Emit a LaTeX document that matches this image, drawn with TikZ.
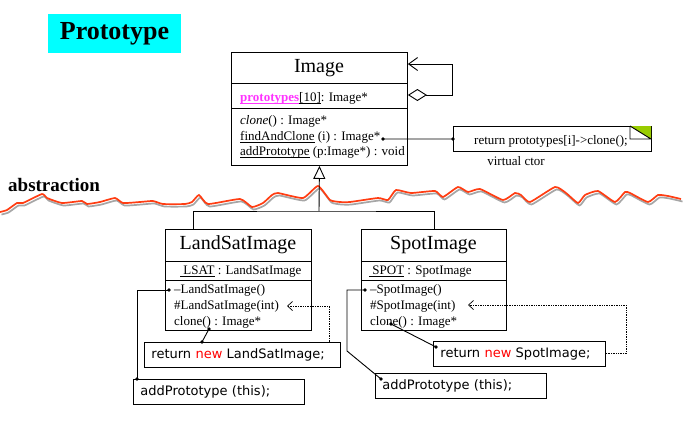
\documentclass[tikz,border=0pt]{standalone}
\usepackage{fontspec}
\setmainfont{Liberation Serif}
\newfontfamily\codefont{DejaVu Sans}
\usetikzlibrary{arrows.meta}
\newcommand\myul[1]{\setbox0\hbox{#1}\rlap{\vrule height -1.6pt depth 2.5pt width \wd0}\box0\relax}
\definecolor{titlecyan}{HTML}{00FFFF}
\definecolor{attrmag}{HTML}{FF33FF}
\definecolor{wavered}{HTML}{FF3D12}
\definecolor{notegreen}{HTML}{99CC00}
\tikzset{
  cls/.style={draw, line width=0.9pt, anchor=north west, inner sep=0pt},
  txt/.style={anchor=base west, inner sep=0pt, font=\fontsize{13}{15}\selectfont},
  hdr/.style={inner sep=0pt, font=\fontsize{20}{24}\selectfont},
  codebox/.style={draw, line width=0.9pt, anchor=north west, align=left, inner xsep=7pt, inner ysep=0pt, minimum height=24.5pt, font=\codefont\fontsize{13}{15}\selectfont},
  dotm/.style={circle, fill, inner sep=0pt, minimum size=3.8pt},
  conn/.style={line width=0.9pt},
  dep/.style={densely dotted, line width=0.7pt, -{Straight Barb[length=5pt,width=9pt]}},
}
\begin{document}
\begin{tikzpicture}[x=1pt,y=-1pt]
\fill[white] (0,0) rectangle (698,437);
\useasboundingbox (0,0) rectangle (698,437);

% title
\node[fill=titlecyan, minimum width=133pt, minimum height=39pt, inner sep=0pt,
      font=\bfseries\fontsize{26}{30}\selectfont] (title) at (114.5,33.5) {Prototype};

% abstraction wave
\def\wavepts{(0,212) (7,210) (17,203) (23,203) (42,194) (47,198) (62,203) (82,201) (87,204) (100,202) (115,198) (123,203) (140,202) (153,201) (163,204) (185,204) (192,202) (199,195) (208,204) (240,199) (252,207) (263,203) (272,195) (278,193) (303,198) (318,186) (330,200) (340,202) (350,202) (378,198) (388,200) (396,190) (411,193) (435,191) (443,197) (458,187) (468,192) (480,189) (503,200) (515,193) (521,195) (530,202) (555,187) (566,193) (578,203) (585,195) (598,191) (615,202) (625,192) (630,193) (648,202) (658,195) (668,196) (681,199)}
\draw[gray!70, line width=1.7pt, shift={(1.5,2.5)}] plot[smooth, tension=0.3] coordinates {\wavepts};
\draw[wavered, line width=1.7pt] plot[smooth, tension=0.3] coordinates {\wavepts};
\node[anchor=west, inner sep=0pt, font=\bfseries\fontsize{19}{22}\selectfont] (abs) at (8,185) {abstraction};

% Image class
\node[cls, minimum width=176pt, minimum height=113pt] (img) at (231,52) {};
\draw[line width=0.9pt] (231,83) -- (407,83) (231,108) -- (407,108);
\node[hdr] (imgname) at (319,68) {Image};
\node[txt] (imgattr) at (240,101) {\textbf{\color{attrmag}\myul{prototypes}}\myul{[10]}: Image*};
\node[txt] (imgm1) at (240,124) {\textit{clone}() : Image*};
\node[txt] (imgm2) at (240,140) {\myul{findAndClone} (i) : Image*};
\node[txt] (imgm3) at (240,155) {\myul{addPrototype} (p:Image*) : void};

% self association
\draw[conn, {Diamond[open,length=19pt,width=12pt]}-{Straight Barb[length=9pt,width=13pt]}]
  (img.east |- 0,95) -- (452,95) -- (452,64) -- (img.east |- 0,64);

% note
\node[draw, line width=0.9pt, anchor=north west, minimum width=198pt, minimum height=25pt, inner sep=0pt] (note) at (453,126) {};
\fill[notegreen] (630,126) -- (651,126) -- (651,139) -- cycle;
\draw[line width=0.9pt] (630,126) -- (651,139) (630,126) -- (630,139) -- (651,139);
\node[inner sep=0pt, font=\fontsize{13}{15}\selectfont] (notetxt) at (551,141) {return prototypes[i]->clone();};
\node[inner sep=0pt, font=\fontsize{13}{15}\selectfont] (vctor) at (516,161) {virtual ctor};
\coordinate (imgdot) at (383,139);
\draw[conn] (imgdot) -- (note.west);
\node[dotm] at (imgdot) {};
\node[dotm] at (note.west) {};

% LandSatImage class
\node[cls, minimum width=146pt, minimum height=101pt] (ls) at (165,229) {};
\draw[line width=0.9pt] (165,261) -- (311,261) (165,280) -- (311,280);
\node[hdr] (lsname) at (238,245) {LandSatImage};
\node[txt] (lsattr) at (180,274) {\myul{\ LSAT} : LandSatImage};
\node[txt] (lsm1) at (174,293) {–LandSatImage()};
\node[txt] (lsm2) at (174,309) {\#LandSatImage(int)};
\node[txt] (lsm3) at (174,325) {clone() : Image*};

% SpotImage class
\node[cls, minimum width=145pt, minimum height=101pt] (sp) at (361,229) {};
\draw[line width=0.9pt] (361,261) -- (506,261) (361,280) -- (506,280);
\node[hdr] (spname) at (433.5,245) {SpotImage};
\node[txt] (spattr) at (369,274) {\myul{\ SPOT} : SpotImage};
\node[txt] (spm1) at (370,293) {–SpotImage()};
\node[txt] (spm2) at (370,309) {\#SpotImage(int)};
\node[txt] (spm3) at (370,325) {clone() : Image*};

% inheritance
\coordinate (bar) at (319,211);
\draw[conn] ([xshift=-45pt]ls.north) |- (bar) -| (sp.north);
\draw[conn, -{Triangle[open,length=13pt,width=12pt]}] (bar) -- (img.south);

% code boxes
\node[codebox, text width=182pt] (lsret) at (144,342) {return {\color{red}new} LandSatImage;};
\node[codebox, text width=157pt] (lsadd) at (133,379) {addPrototype (this);};
\node[codebox, text width=158pt] (spret) at (433,341) {return {\color{red}new} SpotImage;};
\node[codebox, text width=157pt] (spadd) at (375,373) {addPrototype (this);};

% LandSat connectors
\coordinate (lsd1) at (169,290);
\coordinate (lsd2) at (137,379);
\draw[conn] (lsd1) -| (lsd2);
\node[dotm] at (lsd1) {};
\node[dotm] at (lsd2) {};
\coordinate (lsc1) at (209,329);
\coordinate (lsc2) at (202,342);
\draw[conn] (lsc1) -- (lsc2);
\node[dotm] at (lsc1) {};
\node[dotm] at (lsc2) {};
\coordinate (lsarr) at (287,306);
\coordinate (lsdc) at (329,306);
\draw[dep] (lsret.north -| lsdc) |- (lsarr);

% Spot connectors
\coordinate (spd1) at (365,290);
\coordinate (spk) at (347,351);
\coordinate (spd2) at (381,379);
\draw[conn] (spd1) -| (spk) -- (spd2);
\node[dotm] at (spd1) {};
\node[dotm] at (spd2) {};
\coordinate (spc1) at (391,324);
\coordinate (spc2) at (436,347);
\draw[conn] (spc1) -- (spc2);
\node[dotm] at (spc1) {};
\node[dotm] at (spc2) {};
\coordinate (sparr) at (468,305);
\draw[dep] (spret.east) -- ++(20,0) |- (sparr);
\end{tikzpicture}
\end{document}
